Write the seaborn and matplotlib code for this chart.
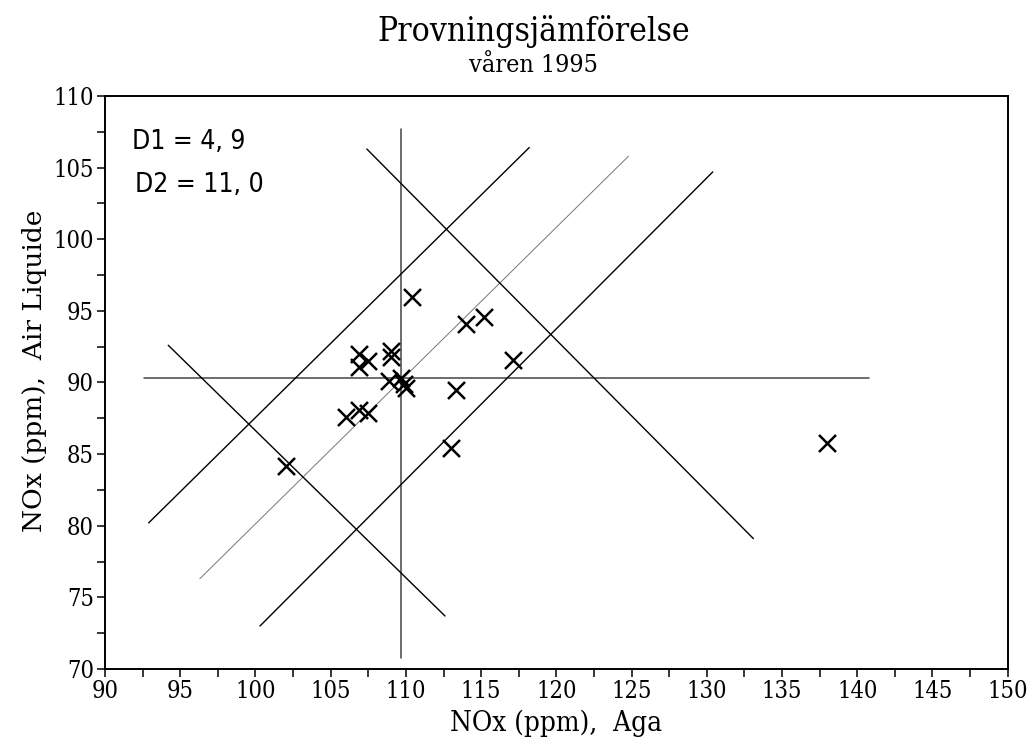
import matplotlib
matplotlib.use("Agg")
import matplotlib.pyplot as plt
import numpy as np
import pandas as pd
import seaborn as sns
from matplotlib.ticker import MultipleLocator

# measured pairs (Aga vs Air Liquide)
aga = [102.0, 106.0, 106.9, 107.5, 106.9, 107.5, 106.9, 109.0, 109.0, 108.9,
       109.7, 109.9, 110.0, 110.4, 113.3, 113.0, 114.0, 115.2, 117.1, 138.0]
air_liquide = [84.2, 87.6, 88.1, 87.9, 92.0, 91.5, 91.1, 92.2, 91.8, 90.1,
               90.3, 89.9, 89.6, 96.0, 89.5, 85.4, 94.1, 94.6, 91.6, 85.8]

# Youden reference lines (data units): median cross, 45 deg lines, perpendiculars
seg_x0 = [109.65, 92.6, 96.3, 92.9, 100.3, 94.2, 107.4]
seg_y0 = [107.7, 90.33, 76.3, 80.2, 73.0, 92.6, 106.3]
seg_x1 = [109.65, 140.8, 124.8, 118.2, 130.4, 112.6, 133.1]
seg_y1 = [70.8, 90.33, 105.8, 106.4, 104.7, 73.7, 79.1]
seg_kind = ["median", "median", "diag", "band", "band", "perp", "perp"]

d1_label = "D1 = 4, 9"
d2_label = "D2 = 11, 0"
title_main = "Provningsjämförelse"
title_sub = "våren 1995"

sns.set_style("ticks")
plt.rcParams["font.family"] = ["DejaVu Serif"]
plt.rcParams["font.stretch"] = "condensed"
for key in ["text.color", "axes.labelcolor", "xtick.color", "ytick.color", "axes.edgecolor"]:
    plt.rcParams[key] = "black"

df = pd.DataFrame({"aga": aga, "air": air_liquide})

fig = plt.figure(figsize=(10.36, 7.51), dpi=100)
ax = fig.add_axes([0.1014, 0.1092, 0.8712, 0.763])

styles = {
    "median": dict(color="#444444", lw=1.1),
    "diag": dict(color="#777777", lw=0.7),
    "band": dict(color="black", lw=1.0),
    "perp": dict(color="black", lw=1.0),
}
for x0, y0, x1, y1, k in zip(seg_x0, seg_y0, seg_x1, seg_y1, seg_kind):
    ax.plot([x0, x1], [y0, y1], zorder=1, **styles[k])

sns.scatterplot(data=df, x="aga", y="air", marker="x", s=150, color="black",
                linewidth=1.8, ax=ax, zorder=3)

ax.set_xlim(90, 150)
ax.set_ylim(70, 110)
ax.xaxis.set_major_locator(MultipleLocator(5))
ax.xaxis.set_minor_locator(MultipleLocator(2.5))
ax.yaxis.set_major_locator(MultipleLocator(5))
ax.yaxis.set_minor_locator(MultipleLocator(2.5))
ax.tick_params(which="both", direction="out", length=6, width=1.1, colors="black")
ax.tick_params(which="major", labelsize=17, pad=2)
for sp in ax.spines.values():
    sp.set_linewidth(1.4)

ax.set_xlabel("NOx (ppm),  Aga", fontsize=20, labelpad=5)
ax.set_ylabel("NOx (ppm),  Air Liquide", fontsize=19, fontstretch="normal")
ax.yaxis.set_label_coords(-0.064, 0.52)

mono = dict(family="DejaVu Sans", fontstretch="condensed", fontsize=19)
ax.text(0.030, 0.92, d1_label, transform=ax.transAxes, va="center", ha="left", **mono)
ax.text(0.033, 0.845, d2_label, transform=ax.transAxes, va="center", ha="left", **mono)

fig.text(0.515, 0.958, title_main, ha="center", va="center", fontsize=24)
fig.text(0.515, 0.913, title_sub, ha="center", va="center", fontsize=18)

fig.savefig("out.png", dpi=100)
